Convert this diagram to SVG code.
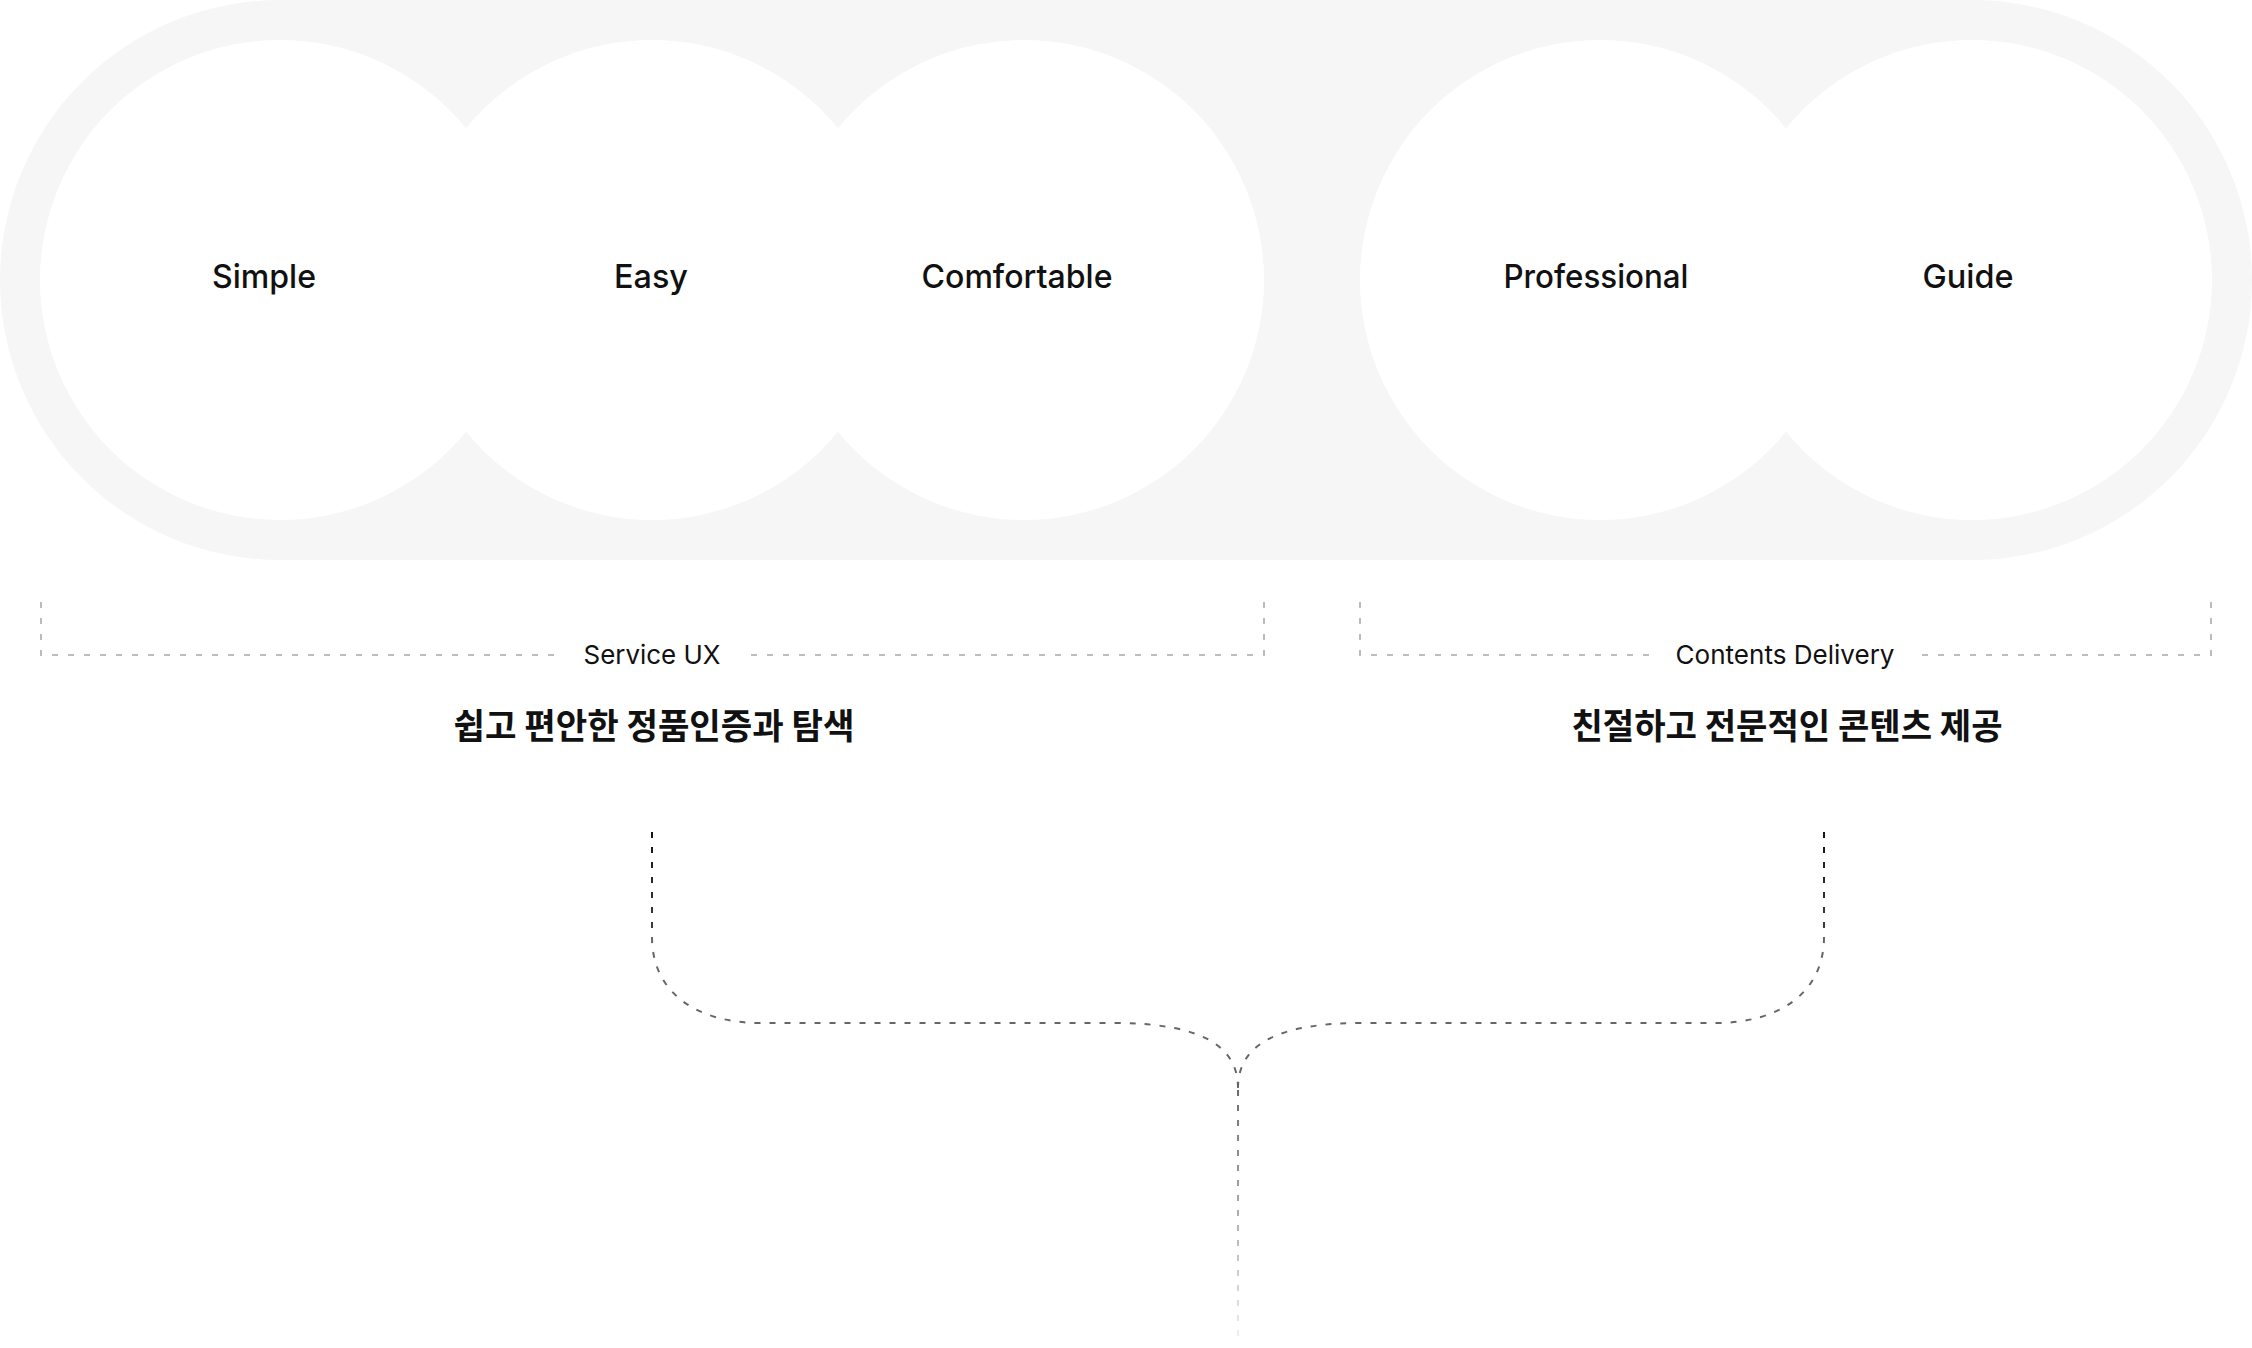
<svg xmlns="http://www.w3.org/2000/svg" width="2252" height="1348" viewBox="0 0 2252 1348">
<style>
  .bubble { fill: #ffffff; }
  .label { font-family: Inter, "Noto Sans", "Liberation Sans", sans-serif; font-weight: 500; font-size: 33px; fill: #111111; text-anchor: middle; }
  .cat { font-family: Inter, "Noto Sans", "Liberation Sans", sans-serif; font-weight: 400; font-size: 26px; fill: #111111; text-anchor: middle; }
  .kr { font-family: "Noto Sans CJK KR", "Noto Sans", sans-serif; font-weight: 700; font-size: 35px; fill: #111111; text-anchor: middle; }
  .bracket { fill: none; stroke: #bdbdbd; stroke-width: 2; stroke-dasharray: 6 10; }
  .flow { fill: none; stroke-width: 2; stroke-dasharray: 6 9; }
</style>
<defs>
  <linearGradient id="gDown" gradientUnits="userSpaceOnUse" x1="0" y1="832" x2="0" y2="1023">
    <stop offset="0" stop-color="#111111"/>
    <stop offset="1" stop-color="#666666"/>
  </linearGradient>
  <linearGradient id="gFade" gradientUnits="userSpaceOnUse" x1="0" y1="1088" x2="0" y2="1336">
    <stop offset="0" stop-color="#6a6a6a"/>
    <stop offset="1" stop-color="#eeeeee"/>
  </linearGradient>
</defs>
<rect width="2252" height="1348" fill="#ffffff"/>
<g id="background">
  <rect x="0" y="0" width="2252" height="560" rx="280" ry="280" fill="#f6f6f6"/>
</g>
<g id="circles">
  <circle class="bubble" cx="280" cy="280" r="240"/>
  <circle class="bubble" cx="652" cy="280" r="240"/>
  <circle class="bubble" cx="1024" cy="280" r="240"/>
  <circle class="bubble" cx="1600" cy="280" r="240"/>
  <circle class="bubble" cx="1972" cy="280" r="240"/>
</g>
<g id="node-simple"><text class="label" x="264" y="288" textLength="104" lengthAdjust="spacingAndGlyphs">Simple</text></g>
<g id="node-easy"><text class="label" x="651" y="288" textLength="74" lengthAdjust="spacingAndGlyphs">Easy</text></g>
<g id="node-comfortable"><text class="label" x="1017" y="288" textLength="191" lengthAdjust="spacingAndGlyphs">Comfortable</text></g>
<g id="node-professional"><text class="label" x="1596" y="288" textLength="185" lengthAdjust="spacingAndGlyphs">Professional</text></g>
<g id="node-guide"><text class="label" x="1968" y="288" textLength="91" lengthAdjust="spacingAndGlyphs">Guide</text></g>
<g id="group-service-ux">
  <path class="bracket" d="M41,602 V655 H560"/>
  <path class="bracket" d="M1264,602 V655 H746"/>
  <text class="cat" x="652" y="664" textLength="137" lengthAdjust="spacingAndGlyphs">Service UX</text>
  <text class="kr" x="654" y="739" textLength="401" lengthAdjust="spacingAndGlyphs">쉽고 편안한 정품인증과 탐색</text>
</g>
<g id="group-contents-delivery">
  <path class="bracket" d="M1360,602 V655 H1652"/>
  <path class="bracket" d="M2211,602 V655 H1919"/>
  <text class="cat" x="1785" y="664" textLength="219" lengthAdjust="spacingAndGlyphs">Contents Delivery</text>
  <text class="kr" x="1787" y="739" textLength="431" lengthAdjust="spacingAndGlyphs">친절하고 전문적인 콘텐츠 제공</text>
</g>
<g id="connectors">
  <path class="flow" stroke="url(#gDown)" d="M652,832 V937"/>
  <path class="flow" stroke="url(#gDown)" d="M1824,832 V937"/>
  <path class="flow" stroke="#666666" d="M652,937 C652,995 700,1023 760,1023 H1113 C1190,1023 1238,1040 1238,1088"/>
  <path class="flow" stroke="#666666" d="M1824,937 C1824,995 1776,1023 1716,1023 H1363 C1286,1023 1238,1040 1238,1088"/>
  <path class="flow" stroke="url(#gFade)" d="M1238,1090 V1336"/>
</g>
</svg>
